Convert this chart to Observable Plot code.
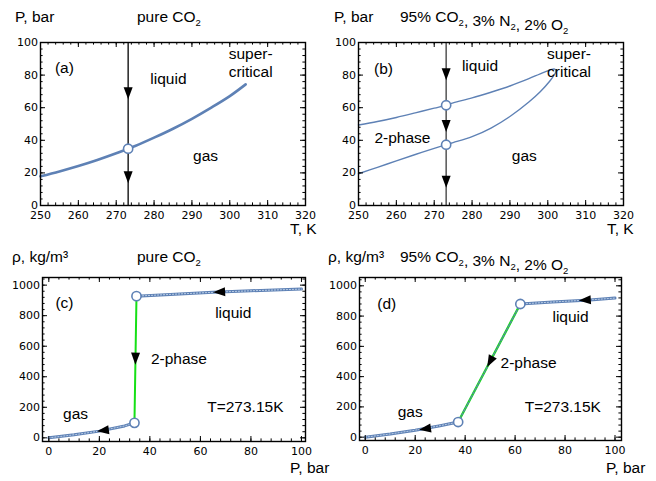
<!DOCTYPE html>
<html><head><meta charset="utf-8">
<script src="https://cdn.jsdelivr.net/npm/d3@7"></script>
<script src="https://cdn.jsdelivr.net/npm/@observablehq/plot@0.6"></script>
<style>
body{margin:0;background:#fff;}
#wrap{position:relative;width:656px;height:481px;background:#fff;}
#wrap svg{position:absolute;}
</style></head><body><div id="wrap"></div>
<script>
// ---------- data ----------
// (a) pure CO2 saturation curve
const satT = [250,255,260,265,270,273.15,275,280,285,290,295,300,304.2];
const satP = [17.9,20.9,24.2,27.9,32.0,34.85,36.5,41.6,47.1,53.2,59.9,67.1,74.3];
const isoT = 273.15;
const circlesA = [34.85];
const arrowsA = [69, 17.5];
// (b) mixture phase envelope (bubble line then dew line)
const envT = [250,255,260,265,270,273.15,275,280,285,290,295,298,300,301,301.8,302.2,301.8,300.5,298,295,290,285,280,275,273.15,270,265,260,255,250];
const envP = [49.4,51.5,54.0,56.8,59.7,61.5,63.0,66.0,69.5,73.3,77.8,80.8,82.6,83.5,83.7,82.8,80.5,76.2,69.8,63.5,54.6,47.5,42.2,38.6,37.3,35.0,31.3,27.4,23.4,19.5];
const circlesB = [61.5, 37.3];
const arrowsB = [80.6, 49, 14.8];
// (c) pure CO2 isotherm at 273.15 K
const gasC = [[0,0],[10,20],[20,44],[30,78],[33.9,98]];
const twoC = [[34.7,928],[33.9,98]];
const liqC = [[34.7,928],[50,941],[65,953],[80,963],[100,974]];
const circlesC = [[34.7,928],[33.9,98]];
const arrowsC = [{p:[67.5,955], to:[34.7,928]}, {p:[34.3,520], to:[33.9,98]}, {p:[21.5,48], to:[0,0]}];
// (d) mixture isotherm at 273.15 K
const gasD = [[0,0],[10,21],[20,46],[30,76],[37.2,100]];
const twoD = [[37.2,100],[62.1,880]];
const liqD = [[62.1,880],[75,893],[90,907],[100,919]];
const circlesD = [[37.2,100],[62.1,880]];
const arrowsD = [{p:[88,906], to:[62.1,880]}, {p:[50,500], to:[37.2,100]}, {p:[24,55], to:[0,0]}];
// tick labels
const tTicks = [250,260,270,280,290,300,310,320];
const pTicks = [0,20,40,60,80,100];
const rhoTicks = [0,200,400,600,800,1000];
// annotations [x, y, text, anchor]
const labA = [[256.3,84.5,"(a)","middle"],[283.8,77.8,"liquid","middle"],[293.6,30.6,"gas","middle"],[305.5,93,"super-","start"],[305.5,82,"critical","start"]];
const labB = [[256.6,83.7,"(b)","middle"],[282.1,85.7,"liquid","middle"],[261.6,41.2,"2-phase","middle"],[293.8,30.6,"gas","middle"],[305.6,93,"super-","start"],[305.6,82,"critical","start"]];
const labC = [[6.2,880,"(c)","middle"],[73,818,"liquid","middle"],[51.5,514,"2-phase","middle"],[10.6,153,"gas","middle"],[77.8,201,"T=273.15K","middle"]];
const labD = [[8.6,879,"(d)","middle"],[82.2,791,"liquid","middle"],[65.4,490,"2-phase","middle"],[18,169,"gas","middle"],[79.1,198,"T=273.15K","middle"]];

// ---------- helpers ----------
const BLUE = "#5e81b5", GREEN = "#16e016";
const LBL = "'Liberation Sans', Arial, sans-serif";
const arrowSym = {draw(ctx, size){const r=Math.sqrt(size/Math.PI);ctx.moveTo(0,-1.25*r);ctx.lineTo(0.9*r,1.15*r);ctx.lineTo(-0.9*r,1.15*r);ctx.closePath();}};

function panel(o){
  const fw=o.w-o.ml-o.mr, fh=o.h-o.mt-o.mb;
  const kx=fw/(o.xd[1]-o.xd[0]), ky=fh/(o.yd[1]-o.yd[0]);
  const inX=v=>v>=o.xd[0]&&v<=o.xd[1], inY=v=>v>=o.yd[0]&&v<=o.yd[1];
  const xm=d3.range(o.xt[0]-o.xt[1]+o.xt[0],o.xt[o.xt.length-1]+o.xs,o.xs).filter(inX);
  const ym=d3.range(o.yt[0],o.yt[o.yt.length-1]+2*o.ys,o.ys).filter(inY);
  const X=d=>d, maj=5, mnr=2.6;
  const svg=Plot.plot({
    width:o.w,height:o.h,marginLeft:o.ml,marginRight:o.mr,marginTop:o.mt,marginBottom:o.mb,
    x:{domain:o.xd},y:{domain:o.yd},
    style:{fontFamily:LBL,fontSize:"15px",background:"transparent",overflow:"visible"},
    marks:[
      ...o.marks(kx,ky),
      Plot.text(o.labels,{x:d=>d[0],y:d=>d[1],text:d=>d[2],textAnchor:d=>d[3],fontSize:15.5,fontFamily:LBL,fill:"black"}),
      Plot.ruleX(xm,{x:X,insetTop:fh-mnr}),Plot.ruleX(xm,{x:X,insetBottom:fh-mnr}),
      Plot.ruleX(o.xt.filter(inX),{x:X,insetTop:fh-maj}),Plot.ruleX(o.xt.filter(inX),{x:X,insetBottom:fh-maj}),
      Plot.ruleY(ym,{y:X,insetRight:fw-mnr}),Plot.ruleY(ym,{y:X,insetLeft:fw-mnr}),
      Plot.ruleY(o.yt.filter(inY),{y:X,insetRight:fw-maj}),Plot.ruleY(o.yt.filter(inY),{y:X,insetLeft:fw-maj}),
      Plot.frame({stroke:"black",strokeWidth:1.4}),
      Plot.axisX(o.xt,{tickSize:0,tickPadding:5.5,fontSize:11,fontFamily:"'DejaVu Sans'",label:null,tickFormat:d=>String(d)}),
      Plot.axisY(o.yt,{tickSize:0,tickPadding:2.5,fontSize:11,fontFamily:"'DejaVu Sans'",label:null,tickFormat:d=>String(d)})
    ]
  });
  svg.style.left=o.left+"px"; svg.style.top=o.top+"px";
  const s=d3.select(svg);
  for(const [x,y,parts] of o.heads){
    const t=s.append("text").attr("x",x).attr("y",y).attr("text-anchor","start").attr("font-size",15.5).attr("font-family",LBL).attr("fill","black");
    for(const p of parts){
      if(typeof p==="string") t.append("tspan").text(p);
      else { t.append("tspan").attr("dy",4).attr("font-size",9.5).text(p.sub); t.append("tspan").attr("dy",-4).text(""); }
    }
  }
  document.getElementById("wrap").appendChild(svg);
}
function ang(a,b,kx,ky){const dx=(b[0]-a[0])*kx, dy=-(b[1]-a[1])*ky; return Math.atan2(dx,-dy)*180/Math.PI;}
const circ=(data,x,y)=>Plot.dot(data,{x,y,r:4.6,fill:"white",stroke:BLUE,strokeWidth:1.6});
const arrowDots=(data,x,y,rot)=>Plot.dot(data,{x,y,r:5,symbol:arrowSym,fill:"black",stroke:"none",rotate:rot});
function fancyLine(data,color,dashColor,w=3,dw=1,dash="1.2 1.8"){
  return [Plot.line(data,{x:d=>d[0],y:d=>d[1],stroke:color,strokeWidth:w}),
          Plot.line(data,{x:d=>d[0],y:d=>d[1],stroke:dashColor,strokeWidth:dw,strokeDasharray:dash})];
}
const satData = satT.map((t,i)=>[t,satP[i]]);
const envData = envT.map((t,i)=>[t,envP[i]]);

// (a)
panel({left:0,top:0,w:328,h:240,ml:40,mr:23,mt:42,mb:35,xd:[250,320],yd:[0,100],xt:tTicks,xs:2,yt:pTicks,ys:4,labels:labA,
  heads:[[15,22,["P, bar"]],[137,22,["pure CO",{sub:"2"}]],[290,234,["T, K"]]],
  marks:(kx,ky)=>[
    Plot.ruleX([isoT],{x:d=>d,stroke:"black",strokeWidth:1.3}),
    Plot.line(satData,{x:d=>d[0],y:d=>d[1],stroke:BLUE,strokeWidth:2.6,curve:"catmull-rom"}),
    arrowDots(arrowsA,()=>isoT,d=>d,180),
    circ(circlesA,()=>isoT,d=>d)
  ]});
// (b)
panel({left:328,top:0,w:328,h:240,ml:30,mr:33,mt:42,mb:35,xd:[250,320],yd:[0,100],xt:tTicks,xs:2,yt:pTicks,ys:4,labels:labB,
  heads:[[6,22,["P, bar"]],[72,22,["95% CO",{sub:"2"},", 3% N",{sub:"2"},", 2% O",{sub:"2"}]],[279,234,["T, K"]]],
  marks:(kx,ky)=>[
    Plot.ruleX([isoT],{x:d=>d,stroke:"#3a3a3a",strokeWidth:1.3}),
    Plot.line(envData,{x:d=>d[0],y:d=>d[1],stroke:BLUE,strokeWidth:1.4,curve:"catmull-rom"}),
    arrowDots(arrowsB,()=>isoT,d=>d,180),
    circ(circlesB,()=>isoT,d=>d)
  ]});
// (c)
panel({left:0,top:240,w:328,h:240,ml:42,mr:23,mt:37,mb:39,xd:[-2.5,101.6],yd:[-24,1050],xt:[0,20,40,60,80,100],xs:4,yt:rhoTicks,ys:40,labels:labC,
  heads:[[12,22,["ρ, kg/m³"]],[137,22,["pure CO",{sub:"2"}]],[290,233,["P, bar"]]],
  marks:(kx,ky)=>[
    Plot.line(twoC,{x:d=>d[0],y:d=>d[1],stroke:GREEN,strokeWidth:2}),
    ...fancyLine(gasC,BLUE,"#b9cde6"),
    ...fancyLine(liqC,BLUE,"#b9cde6"),
    Plot.dot(arrowsC,{x:d=>d.p[0],y:d=>d.p[1],r:5,symbol:arrowSym,fill:"black",rotate:d=>ang(d.p,d.to,kx,ky)}),
    circ(circlesC,d=>d[0],d=>d[1])
  ]});
// (d)
panel({left:328,top:240,w:328,h:241,ml:31,mr:35,mt:37,mb:41,xd:[-2.3,102.6],yd:[-22,1055],xt:[0,20,40,60,80,100],xs:4,yt:rhoTicks,ys:40,labels:labD,
  heads:[[0,22,["ρ, kg/m³"]],[72,22,["95% CO",{sub:"2"},", 3% N",{sub:"2"},", 2% O",{sub:"2"}]],[278,233,["P, bar"]]],
  marks:(kx,ky)=>[
    ...fancyLine(twoD,GREEN,BLUE,2.4,1.3,"2 2"),
    ...fancyLine(gasD,BLUE,"#b9cde6"),
    ...fancyLine(liqD,BLUE,"#b9cde6"),
    Plot.dot(arrowsD,{x:d=>d.p[0],y:d=>d.p[1],r:5,symbol:arrowSym,fill:"black",rotate:d=>ang(d.p,d.to,kx,ky)}),
    circ(circlesD,d=>d[0],d=>d[1])
  ]});
</script></body></html>
